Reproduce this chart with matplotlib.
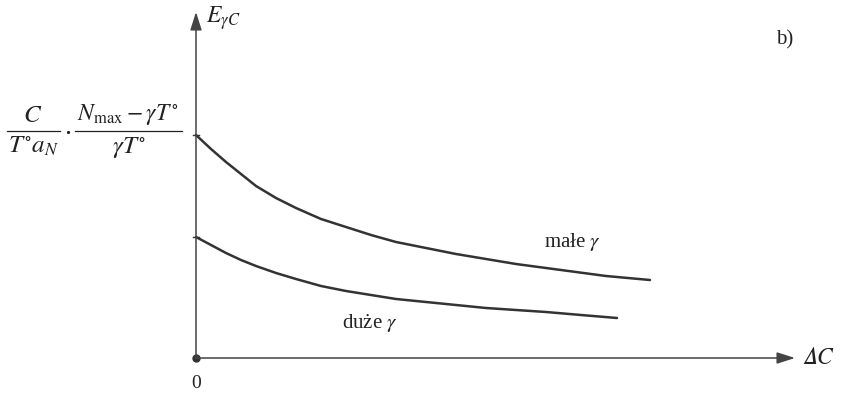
import matplotlib.pyplot as plt

plt.rcParams['font.family'] = ['Liberation Serif', 'DejaVu Serif']
plt.rcParams['mathtext.fontset'] = 'stix'

# curves: distance along dC axis and height of E_gammaC
male_x = [0, 15, 30, 45, 60, 80, 100, 125, 150, 175, 200, 230, 260, 290, 320, 350, 380, 410, 454]
male_y = [223, 209, 196, 184, 172, 160, 150, 139, 131, 123, 116, 110, 104, 99, 94, 90, 86, 82, 78]
duze_x = [0, 15, 30, 45, 60, 80, 100, 125, 150, 175, 200, 230, 260, 290, 320, 350, 385, 421]
duze_y = [121, 113, 105, 98, 92, 85, 79, 72, 67, 63, 59, 56, 53, 50, 48, 46, 43, 40]

curve_labels = ["małe $\\gamma$", "duże $\\gamma$"]
y_label = r"$E_{\gamma C}$"
x_label = "$\U0001D6E5C$"
# value at dC = 0:  C/(T° a_N) * (N_max - gamma T°)/(gamma T°)
frac1 = [r"$C$", r"$T^{\circ}a_N$"]
frac2 = [r"$N_{\max}-\gamma T^{\circ}$", r"$\gamma T^{\circ}$"]

fig = plt.figure(figsize=(8.41, 3.95), dpi=100)
ax = fig.add_axes([0, 0, 1, 1])
ax.set_xlim(-196, 645)
ax.set_ylim(-37, 358)
ax.axis('off')

col = '#333333'
txt = '#222222'
ax.plot(male_x, male_y, color=col, lw=1.8, solid_capstyle='round', solid_joinstyle='round')
ax.plot(duze_x, duze_y, color=col, lw=1.8, solid_capstyle='round', solid_joinstyle='round')

# axes with arrows
arr = dict(arrowstyle='-|>,head_length=1.1,head_width=0.35', color='#444444', lw=1.1,
           shrinkA=0, shrinkB=0)
ax.annotate('', xy=(0, 346), xytext=(0, 0), arrowprops=arr)
ax.annotate('', xy=(599, 0), xytext=(0, 0), arrowprops=arr)
ax.plot([0], [0], 'o', color=col, ms=5)
ax.plot([-3, 3], [male_y[0], male_y[0]], color=col, lw=1)
ax.plot([-3, 3], [duze_y[0], duze_y[0]], color=col, lw=1)

ax.text(10, 340, y_label, fontsize=17, color=txt, va='center', ha='left')
ax.text(606, 0, x_label, fontsize=17, color=txt, va='center', ha='left')
ax.text(0, -25, '0', fontsize=14, color=txt, ha='center', va='center')
ax.text(589, 318, 'b)', fontsize=15, color=txt, ha='center', va='center')

# formula on the y axis, built from two fractions
fy = 227
ax.plot([-189, -136], [fy, fy], color=txt, lw=0.9)
ax.plot([-121, -14], [fy, fy], color=txt, lw=0.9)
ax.plot([-128], [fy - 1], 'o', color=txt, ms=1.3)
ax.text(-163, fy + 4, frac1[0], fontsize=18, color=txt, ha='center', va='bottom')
ax.text(-163, fy - 4, frac1[1], fontsize=18, color=txt, ha='center', va='top')
ax.text(-68, fy + 4, frac2[0], fontsize=17, color=txt, ha='center', va='bottom')
ax.text(-67, fy - 4, frac2[1], fontsize=18, color=txt, ha='center', va='top')

ax.text(376, 116, curve_labels[0], fontsize=15, color=txt, ha='center', va='center')
ax.text(174, 35, curve_labels[1], fontsize=15, color=txt, ha='center', va='center')

fig.savefig('out.png', dpi=100)
